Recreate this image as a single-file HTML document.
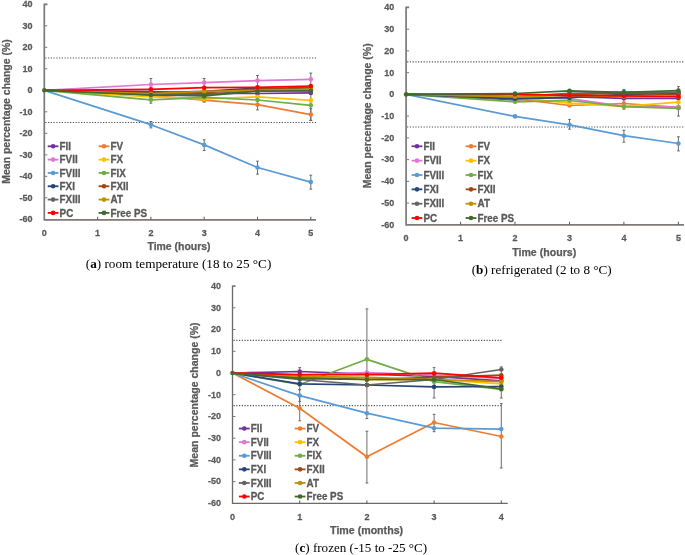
<!DOCTYPE html>
<html><head><meta charset="utf-8"><style>
html,body{margin:0;padding:0;background:#fff;width:685px;height:555px;overflow:hidden}
svg{display:block;filter:blur(0.35px)}
.tk{font-family:"Liberation Sans",sans-serif;font-weight:bold;font-size:9.4px;fill:#595959;stroke:#595959;stroke-width:0.25px}
.ti{font-family:"Liberation Sans",sans-serif;font-weight:bold;font-size:10.8px;fill:#595959;stroke:#595959;stroke-width:0.25px}
.lg{font-family:"Liberation Sans",sans-serif;font-weight:bold;font-size:10.6px;fill:#595959;stroke:#595959;stroke-width:0.3px}
.cap{font-family:"Liberation Serif",serif;font-size:13.5px;fill:#000}
</style></head><body>
<svg width="685" height="555" viewBox="0 0 685 555">
<rect width="685" height="555" fill="#fff"/>
<line x1="45.3" y1="58.0" x2="316.0" y2="58.0" stroke="#505050" stroke-width="1.15" stroke-dasharray="1.2 1.55"/>
<line x1="45.3" y1="122.5" x2="316.0" y2="122.5" stroke="#505050" stroke-width="1.15" stroke-dasharray="1.2 1.55"/>
<path d="M47.3 4.3H44.3V219.8H316.0" fill="none" stroke="#7f7977" stroke-width="1.7"/>
<line x1="44.3" y1="197.8" x2="47.3" y2="197.8" stroke="#7f7977" stroke-width="1"/>
<line x1="44.3" y1="176.3" x2="47.3" y2="176.3" stroke="#7f7977" stroke-width="1"/>
<line x1="44.3" y1="154.8" x2="47.3" y2="154.8" stroke="#7f7977" stroke-width="1"/>
<line x1="44.3" y1="133.3" x2="47.3" y2="133.3" stroke="#7f7977" stroke-width="1"/>
<line x1="44.3" y1="111.8" x2="47.3" y2="111.8" stroke="#7f7977" stroke-width="1"/>
<line x1="44.3" y1="90.3" x2="47.3" y2="90.3" stroke="#7f7977" stroke-width="1"/>
<line x1="44.3" y1="68.8" x2="47.3" y2="68.8" stroke="#7f7977" stroke-width="1"/>
<line x1="44.3" y1="47.3" x2="47.3" y2="47.3" stroke="#7f7977" stroke-width="1"/>
<line x1="44.3" y1="25.8" x2="47.3" y2="25.8" stroke="#7f7977" stroke-width="1"/>
<line x1="44.3" y1="4.3" x2="47.3" y2="4.3" stroke="#7f7977" stroke-width="1"/>
<line x1="97.6" y1="219.8" x2="97.6" y2="216.8" stroke="#5e5a5a" stroke-width="1.05"/>
<line x1="150.9" y1="219.8" x2="150.9" y2="216.8" stroke="#5e5a5a" stroke-width="1.05"/>
<line x1="204.2" y1="219.8" x2="204.2" y2="216.8" stroke="#5e5a5a" stroke-width="1.05"/>
<line x1="257.5" y1="219.8" x2="257.5" y2="216.8" stroke="#5e5a5a" stroke-width="1.05"/>
<line x1="310.8" y1="219.8" x2="310.8" y2="216.8" stroke="#5e5a5a" stroke-width="1.05"/>
<text transform="translate(32.5,222.1) scale(0.96,1)" text-anchor="end" class="tk">-60</text>
<text transform="translate(32.5,200.6) scale(0.96,1)" text-anchor="end" class="tk">-50</text>
<text transform="translate(32.5,179.1) scale(0.96,1)" text-anchor="end" class="tk">-40</text>
<text transform="translate(32.5,157.6) scale(0.96,1)" text-anchor="end" class="tk">-30</text>
<text transform="translate(32.5,136.1) scale(0.96,1)" text-anchor="end" class="tk">-20</text>
<text transform="translate(32.5,114.6) scale(0.96,1)" text-anchor="end" class="tk">-10</text>
<text transform="translate(32.5,93.1) scale(0.96,1)" text-anchor="end" class="tk">0</text>
<text transform="translate(32.5,71.6) scale(0.96,1)" text-anchor="end" class="tk">10</text>
<text transform="translate(32.5,50.1) scale(0.96,1)" text-anchor="end" class="tk">20</text>
<text transform="translate(32.5,28.6) scale(0.96,1)" text-anchor="end" class="tk">30</text>
<text transform="translate(32.5,7.1) scale(0.96,1)" text-anchor="end" class="tk">40</text>
<text transform="translate(44.3,236.0) scale(0.96,1)" text-anchor="middle" class="tk">0</text>
<text transform="translate(97.6,236.0) scale(0.96,1)" text-anchor="middle" class="tk">1</text>
<text transform="translate(150.9,236.0) scale(0.96,1)" text-anchor="middle" class="tk">2</text>
<text transform="translate(204.2,236.0) scale(0.96,1)" text-anchor="middle" class="tk">3</text>
<text transform="translate(257.5,236.0) scale(0.96,1)" text-anchor="middle" class="tk">4</text>
<text transform="translate(310.8,236.0) scale(0.96,1)" text-anchor="middle" class="tk">5</text>
<text transform="translate(10.3,111.5) rotate(-90)" text-anchor="middle" class="ti" textLength="144.5" lengthAdjust="spacingAndGlyphs">Mean percentage change (%)</text>
<text x="179.0" y="249.9" text-anchor="middle" class="ti" textLength="63" lengthAdjust="spacingAndGlyphs">Time (hours)</text>
<text x="85.8" y="268.2" class="cap" textLength="185.5" lengthAdjust="spacingAndGlyphs">(<tspan font-weight="bold">a</tspan>) room temperature (18 to 25 °C)</text>
<line x1="47.70" y1="146.30" x2="58.50" y2="146.30" stroke="#7030A0" stroke-width="1.8"/>
<circle cx="53.10" cy="146.30" r="2.3" fill="#7030A0"/>
<text transform="translate(59.6,149.90) scale(0.93,1)" class="lg">FII</text>
<line x1="98.60" y1="146.30" x2="109.40" y2="146.30" stroke="#ED7D31" stroke-width="1.8"/>
<circle cx="104.00" cy="146.30" r="2.3" fill="#ED7D31"/>
<text transform="translate(110.5,149.90) scale(0.93,1)" class="lg">FV</text>
<line x1="47.70" y1="159.62" x2="58.50" y2="159.62" stroke="#E377D0" stroke-width="1.8"/>
<circle cx="53.10" cy="159.62" r="2.3" fill="#E377D0"/>
<text transform="translate(59.6,163.22) scale(0.93,1)" class="lg">FVII</text>
<line x1="98.60" y1="159.62" x2="109.40" y2="159.62" stroke="#FFC000" stroke-width="1.8"/>
<circle cx="104.00" cy="159.62" r="2.3" fill="#FFC000"/>
<text transform="translate(110.5,163.22) scale(0.93,1)" class="lg">FX</text>
<line x1="47.70" y1="172.94" x2="58.50" y2="172.94" stroke="#5B9BD5" stroke-width="1.8"/>
<circle cx="53.10" cy="172.94" r="2.3" fill="#5B9BD5"/>
<text transform="translate(59.6,176.54) scale(0.93,1)" class="lg">FVIII</text>
<line x1="98.60" y1="172.94" x2="109.40" y2="172.94" stroke="#70AD47" stroke-width="1.8"/>
<circle cx="104.00" cy="172.94" r="2.3" fill="#70AD47"/>
<text transform="translate(110.5,176.54) scale(0.93,1)" class="lg">FIX</text>
<line x1="47.70" y1="186.26" x2="58.50" y2="186.26" stroke="#264478" stroke-width="1.8"/>
<circle cx="53.10" cy="186.26" r="2.3" fill="#264478"/>
<text transform="translate(59.6,189.86) scale(0.93,1)" class="lg">FXI</text>
<line x1="98.60" y1="186.26" x2="109.40" y2="186.26" stroke="#9E480E" stroke-width="1.8"/>
<circle cx="104.00" cy="186.26" r="2.3" fill="#9E480E"/>
<text transform="translate(110.5,189.86) scale(0.93,1)" class="lg">FXII</text>
<line x1="47.70" y1="199.58" x2="58.50" y2="199.58" stroke="#636363" stroke-width="1.8"/>
<circle cx="53.10" cy="199.58" r="2.3" fill="#636363"/>
<text transform="translate(59.6,203.18) scale(0.93,1)" class="lg">FXIII</text>
<line x1="98.60" y1="199.58" x2="109.40" y2="199.58" stroke="#BF9000" stroke-width="1.8"/>
<circle cx="104.00" cy="199.58" r="2.3" fill="#BF9000"/>
<text transform="translate(110.5,203.18) scale(0.93,1)" class="lg">AT</text>
<line x1="47.70" y1="212.90" x2="58.50" y2="212.90" stroke="#FF0000" stroke-width="1.8"/>
<circle cx="53.10" cy="212.90" r="2.3" fill="#FF0000"/>
<text transform="translate(59.6,216.50) scale(0.93,1)" class="lg">PC</text>
<line x1="98.60" y1="212.90" x2="109.40" y2="212.90" stroke="#43682B" stroke-width="1.8"/>
<circle cx="104.00" cy="212.90" r="2.3" fill="#43682B"/>
<text transform="translate(110.5,216.50) scale(0.93,1)" class="lg">Free PS</text>
<path d="M150.9 78.5V103.2M149.5 78.5H152.3M149.5 103.2H152.3" stroke="#5c5c5c" stroke-width="0.9" fill="none"/>
<path d="M204.2 78.5V102.1M202.8 78.5H205.6M202.8 102.1H205.6" stroke="#5c5c5c" stroke-width="0.9" fill="none"/>
<path d="M257.5 75.5V109.9M256.1 75.5H258.9M256.1 109.9H258.9" stroke="#5c5c5c" stroke-width="0.9" fill="none"/>
<path d="M310.8 73.1V120.4M309.4 73.1H312.2M309.4 120.4H312.2" stroke="#5c5c5c" stroke-width="0.9" fill="none"/>
<path d="M150.9 121.5V127.9M149.5 121.5H152.3M149.5 127.9H152.3" stroke="#5c5c5c" stroke-width="0.9" fill="none"/>
<path d="M204.2 139.8V150.5M202.8 139.8H205.6M202.8 150.5H205.6" stroke="#5c5c5c" stroke-width="0.9" fill="none"/>
<path d="M257.5 161.2V174.1M256.1 161.2H258.9M256.1 174.1H258.9" stroke="#5c5c5c" stroke-width="0.9" fill="none"/>
<path d="M310.8 175.2V189.2M309.4 175.2H312.2M309.4 189.2H312.2" stroke="#5c5c5c" stroke-width="0.9" fill="none"/>
<path d="M310.8 108.6V120.4M309.4 108.6H312.2M309.4 120.4H312.2" stroke="#5c5c5c" stroke-width="0.9" fill="none"/>
<polyline points="44.3,90.3 150.9,91.6 204.2,93.3 257.5,93.5 310.8,92.9" fill="none" stroke="#7030A0" stroke-width="1.75" stroke-linejoin="round"/>
<circle cx="150.9" cy="91.6" r="2.3" fill="#7030A0"/>
<circle cx="204.2" cy="93.3" r="2.3" fill="#7030A0"/>
<circle cx="257.5" cy="93.5" r="2.3" fill="#7030A0"/>
<circle cx="310.8" cy="92.9" r="2.3" fill="#7030A0"/>
<polyline points="44.3,90.3 150.9,95.7 204.2,100.2 257.5,104.7 310.8,114.6" fill="none" stroke="#ED7D31" stroke-width="1.75" stroke-linejoin="round"/>
<circle cx="150.9" cy="95.7" r="2.3" fill="#ED7D31"/>
<circle cx="204.2" cy="100.2" r="2.3" fill="#ED7D31"/>
<circle cx="257.5" cy="104.7" r="2.3" fill="#ED7D31"/>
<circle cx="310.8" cy="114.6" r="2.3" fill="#ED7D31"/>
<polyline points="44.3,90.3 150.9,84.5 204.2,82.6 257.5,80.6 310.8,79.3" fill="none" stroke="#E377D0" stroke-width="1.75" stroke-linejoin="round"/>
<circle cx="150.9" cy="84.5" r="2.3" fill="#E377D0"/>
<circle cx="204.2" cy="82.6" r="2.3" fill="#E377D0"/>
<circle cx="257.5" cy="80.6" r="2.3" fill="#E377D0"/>
<circle cx="310.8" cy="79.3" r="2.3" fill="#E377D0"/>
<polyline points="44.3,90.3 150.9,124.7 204.2,144.9 257.5,167.5 310.8,182.1" fill="none" stroke="#5B9BD5" stroke-width="1.75" stroke-linejoin="round"/>
<circle cx="150.9" cy="124.7" r="2.3" fill="#5B9BD5"/>
<circle cx="204.2" cy="144.9" r="2.3" fill="#5B9BD5"/>
<circle cx="257.5" cy="167.5" r="2.3" fill="#5B9BD5"/>
<circle cx="310.8" cy="182.1" r="2.3" fill="#5B9BD5"/>
<polyline points="44.3,90.3 150.9,96.8 204.2,98.9 257.5,96.8 310.8,100.4" fill="none" stroke="#FFC000" stroke-width="1.75" stroke-linejoin="round"/>
<circle cx="150.9" cy="96.8" r="2.3" fill="#FFC000"/>
<circle cx="204.2" cy="98.9" r="2.3" fill="#FFC000"/>
<circle cx="257.5" cy="96.8" r="2.3" fill="#FFC000"/>
<circle cx="310.8" cy="100.4" r="2.3" fill="#FFC000"/>
<polyline points="44.3,90.3 150.9,99.8 204.2,97.4 257.5,100.0 310.8,105.3" fill="none" stroke="#70AD47" stroke-width="1.75" stroke-linejoin="round"/>
<circle cx="150.9" cy="99.8" r="2.3" fill="#70AD47"/>
<circle cx="204.2" cy="97.4" r="2.3" fill="#70AD47"/>
<circle cx="257.5" cy="100.0" r="2.3" fill="#70AD47"/>
<circle cx="310.8" cy="105.3" r="2.3" fill="#70AD47"/>
<polyline points="44.3,90.3 150.9,92.9 204.2,91.4 257.5,88.1 310.8,89.2" fill="none" stroke="#264478" stroke-width="1.75" stroke-linejoin="round"/>
<circle cx="150.9" cy="92.9" r="2.3" fill="#264478"/>
<circle cx="204.2" cy="91.4" r="2.3" fill="#264478"/>
<circle cx="257.5" cy="88.1" r="2.3" fill="#264478"/>
<circle cx="310.8" cy="89.2" r="2.3" fill="#264478"/>
<polyline points="44.3,90.3 150.9,93.5 204.2,92.7 257.5,89.2 310.8,87.1" fill="none" stroke="#9E480E" stroke-width="1.75" stroke-linejoin="round"/>
<circle cx="150.9" cy="93.5" r="2.3" fill="#9E480E"/>
<circle cx="204.2" cy="92.7" r="2.3" fill="#9E480E"/>
<circle cx="257.5" cy="89.2" r="2.3" fill="#9E480E"/>
<circle cx="310.8" cy="87.1" r="2.3" fill="#9E480E"/>
<polyline points="44.3,90.3 150.9,94.6 204.2,94.6 257.5,90.3 310.8,90.3" fill="none" stroke="#636363" stroke-width="1.75" stroke-linejoin="round"/>
<circle cx="150.9" cy="94.6" r="2.3" fill="#636363"/>
<circle cx="204.2" cy="94.6" r="2.3" fill="#636363"/>
<circle cx="257.5" cy="90.3" r="2.3" fill="#636363"/>
<circle cx="310.8" cy="90.3" r="2.3" fill="#636363"/>
<polyline points="44.3,90.3 150.9,93.5 204.2,91.4 257.5,90.3 310.8,89.2" fill="none" stroke="#BF9000" stroke-width="1.75" stroke-linejoin="round"/>
<circle cx="150.9" cy="93.5" r="2.3" fill="#BF9000"/>
<circle cx="204.2" cy="91.4" r="2.3" fill="#BF9000"/>
<circle cx="257.5" cy="90.3" r="2.3" fill="#BF9000"/>
<circle cx="310.8" cy="89.2" r="2.3" fill="#BF9000"/>
<polyline points="44.3,90.3 150.9,89.3 204.2,87.7 257.5,87.3 310.8,86.0" fill="none" stroke="#FF0000" stroke-width="1.75" stroke-linejoin="round"/>
<circle cx="150.9" cy="89.3" r="2.3" fill="#FF0000"/>
<circle cx="204.2" cy="87.7" r="2.3" fill="#FF0000"/>
<circle cx="257.5" cy="87.3" r="2.3" fill="#FF0000"/>
<circle cx="310.8" cy="86.0" r="2.3" fill="#FF0000"/>
<polyline points="44.3,90.3 150.9,95.0 204.2,95.9 257.5,91.2 310.8,90.9" fill="none" stroke="#43682B" stroke-width="1.75" stroke-linejoin="round"/>
<circle cx="44.3" cy="90.3" r="2.3" fill="#43682B"/>
<circle cx="150.9" cy="95.0" r="2.3" fill="#43682B"/>
<circle cx="204.2" cy="95.9" r="2.3" fill="#43682B"/>
<circle cx="257.5" cy="91.2" r="2.3" fill="#43682B"/>
<circle cx="310.8" cy="90.9" r="2.3" fill="#43682B"/>
<line x1="407.1" y1="61.8" x2="684.0" y2="61.8" stroke="#505050" stroke-width="1.15" stroke-dasharray="1.2 1.55"/>
<line x1="407.1" y1="127.0" x2="684.0" y2="127.0" stroke="#505050" stroke-width="1.15" stroke-dasharray="1.2 1.55"/>
<path d="M409.1 7.4H406.1V224.8H684.0" fill="none" stroke="#7f7977" stroke-width="1.7"/>
<line x1="406.1" y1="203.1" x2="409.1" y2="203.1" stroke="#7f7977" stroke-width="1"/>
<line x1="406.1" y1="181.4" x2="409.1" y2="181.4" stroke="#7f7977" stroke-width="1"/>
<line x1="406.1" y1="159.6" x2="409.1" y2="159.6" stroke="#7f7977" stroke-width="1"/>
<line x1="406.1" y1="137.9" x2="409.1" y2="137.9" stroke="#7f7977" stroke-width="1"/>
<line x1="406.1" y1="116.1" x2="409.1" y2="116.1" stroke="#7f7977" stroke-width="1"/>
<line x1="406.1" y1="94.4" x2="409.1" y2="94.4" stroke="#7f7977" stroke-width="1"/>
<line x1="406.1" y1="72.7" x2="409.1" y2="72.7" stroke="#7f7977" stroke-width="1"/>
<line x1="406.1" y1="50.9" x2="409.1" y2="50.9" stroke="#7f7977" stroke-width="1"/>
<line x1="406.1" y1="29.2" x2="409.1" y2="29.2" stroke="#7f7977" stroke-width="1"/>
<line x1="406.1" y1="7.4" x2="409.1" y2="7.4" stroke="#7f7977" stroke-width="1"/>
<line x1="460.6" y1="224.8" x2="460.6" y2="221.8" stroke="#5e5a5a" stroke-width="1.05"/>
<line x1="515.0" y1="224.8" x2="515.0" y2="221.8" stroke="#5e5a5a" stroke-width="1.05"/>
<line x1="569.5" y1="224.8" x2="569.5" y2="221.8" stroke="#5e5a5a" stroke-width="1.05"/>
<line x1="623.9" y1="224.8" x2="623.9" y2="221.8" stroke="#5e5a5a" stroke-width="1.05"/>
<line x1="678.4" y1="224.8" x2="678.4" y2="221.8" stroke="#5e5a5a" stroke-width="1.05"/>
<text transform="translate(394.3,227.6) scale(0.96,1)" text-anchor="end" class="tk">-60</text>
<text transform="translate(394.3,205.9) scale(0.96,1)" text-anchor="end" class="tk">-50</text>
<text transform="translate(394.3,184.2) scale(0.96,1)" text-anchor="end" class="tk">-40</text>
<text transform="translate(394.3,162.4) scale(0.96,1)" text-anchor="end" class="tk">-30</text>
<text transform="translate(394.3,140.7) scale(0.96,1)" text-anchor="end" class="tk">-20</text>
<text transform="translate(394.3,118.9) scale(0.96,1)" text-anchor="end" class="tk">-10</text>
<text transform="translate(394.3,97.2) scale(0.96,1)" text-anchor="end" class="tk">0</text>
<text transform="translate(394.3,75.5) scale(0.96,1)" text-anchor="end" class="tk">10</text>
<text transform="translate(394.3,53.7) scale(0.96,1)" text-anchor="end" class="tk">20</text>
<text transform="translate(394.3,32.0) scale(0.96,1)" text-anchor="end" class="tk">30</text>
<text transform="translate(394.3,10.2) scale(0.96,1)" text-anchor="end" class="tk">40</text>
<text transform="translate(406.1,241.2) scale(0.96,1)" text-anchor="middle" class="tk">0</text>
<text transform="translate(460.6,241.2) scale(0.96,1)" text-anchor="middle" class="tk">1</text>
<text transform="translate(515.0,241.2) scale(0.96,1)" text-anchor="middle" class="tk">2</text>
<text transform="translate(569.5,241.2) scale(0.96,1)" text-anchor="middle" class="tk">3</text>
<text transform="translate(623.9,241.2) scale(0.96,1)" text-anchor="middle" class="tk">4</text>
<text transform="translate(678.4,241.2) scale(0.96,1)" text-anchor="middle" class="tk">5</text>
<text transform="translate(371.2,115.8) rotate(-90)" text-anchor="middle" class="ti" textLength="145" lengthAdjust="spacingAndGlyphs">Mean percentage change (%)</text>
<text x="544.2" y="255.9" text-anchor="middle" class="ti" textLength="64" lengthAdjust="spacingAndGlyphs">Time (hours)</text>
<text x="471.7" y="274.2" class="cap" textLength="140" lengthAdjust="spacingAndGlyphs">(<tspan font-weight="bold">b</tspan>) refrigerated (2 to 8 °C)</text>
<line x1="411.60" y1="146.30" x2="422.40" y2="146.30" stroke="#7030A0" stroke-width="1.8"/>
<circle cx="417.00" cy="146.30" r="2.3" fill="#7030A0"/>
<text transform="translate(423.5,149.90) scale(0.93,1)" class="lg">FII</text>
<line x1="465.60" y1="146.30" x2="476.40" y2="146.30" stroke="#ED7D31" stroke-width="1.8"/>
<circle cx="471.00" cy="146.30" r="2.3" fill="#ED7D31"/>
<text transform="translate(477.5,149.90) scale(0.93,1)" class="lg">FV</text>
<line x1="411.60" y1="160.65" x2="422.40" y2="160.65" stroke="#E377D0" stroke-width="1.8"/>
<circle cx="417.00" cy="160.65" r="2.3" fill="#E377D0"/>
<text transform="translate(423.5,164.25) scale(0.93,1)" class="lg">FVII</text>
<line x1="465.60" y1="160.65" x2="476.40" y2="160.65" stroke="#FFC000" stroke-width="1.8"/>
<circle cx="471.00" cy="160.65" r="2.3" fill="#FFC000"/>
<text transform="translate(477.5,164.25) scale(0.93,1)" class="lg">FX</text>
<line x1="411.60" y1="175.00" x2="422.40" y2="175.00" stroke="#5B9BD5" stroke-width="1.8"/>
<circle cx="417.00" cy="175.00" r="2.3" fill="#5B9BD5"/>
<text transform="translate(423.5,178.60) scale(0.93,1)" class="lg">FVIII</text>
<line x1="465.60" y1="175.00" x2="476.40" y2="175.00" stroke="#70AD47" stroke-width="1.8"/>
<circle cx="471.00" cy="175.00" r="2.3" fill="#70AD47"/>
<text transform="translate(477.5,178.60) scale(0.93,1)" class="lg">FIX</text>
<line x1="411.60" y1="189.35" x2="422.40" y2="189.35" stroke="#264478" stroke-width="1.8"/>
<circle cx="417.00" cy="189.35" r="2.3" fill="#264478"/>
<text transform="translate(423.5,192.95) scale(0.93,1)" class="lg">FXI</text>
<line x1="465.60" y1="189.35" x2="476.40" y2="189.35" stroke="#9E480E" stroke-width="1.8"/>
<circle cx="471.00" cy="189.35" r="2.3" fill="#9E480E"/>
<text transform="translate(477.5,192.95) scale(0.93,1)" class="lg">FXII</text>
<line x1="411.60" y1="203.70" x2="422.40" y2="203.70" stroke="#636363" stroke-width="1.8"/>
<circle cx="417.00" cy="203.70" r="2.3" fill="#636363"/>
<text transform="translate(423.5,207.30) scale(0.93,1)" class="lg">FXIII</text>
<line x1="465.60" y1="203.70" x2="476.40" y2="203.70" stroke="#BF9000" stroke-width="1.8"/>
<circle cx="471.00" cy="203.70" r="2.3" fill="#BF9000"/>
<text transform="translate(477.5,207.30) scale(0.93,1)" class="lg">AT</text>
<line x1="411.60" y1="218.05" x2="422.40" y2="218.05" stroke="#FF0000" stroke-width="1.8"/>
<circle cx="417.00" cy="218.05" r="2.3" fill="#FF0000"/>
<text transform="translate(423.5,221.65) scale(0.93,1)" class="lg">PC</text>
<line x1="465.60" y1="218.05" x2="476.40" y2="218.05" stroke="#43682B" stroke-width="1.8"/>
<circle cx="471.00" cy="218.05" r="2.3" fill="#43682B"/>
<text transform="translate(477.5,221.65) scale(0.93,1)" class="lg">Free PS</text>
<path d="M623.9 89.4V109.2M622.5 89.4H625.3M622.5 109.2H625.3" stroke="#5c5c5c" stroke-width="0.9" fill="none"/>
<path d="M678.4 86.6V116.1M677.0 86.6H679.8M677.0 116.1H679.8" stroke="#5c5c5c" stroke-width="0.9" fill="none"/>
<path d="M569.5 119.4V129.2M568.1 119.4H570.9M568.1 129.2H570.9" stroke="#5c5c5c" stroke-width="0.9" fill="none"/>
<path d="M623.9 130.3V142.2M622.5 130.3H625.3M622.5 142.2H625.3" stroke="#5c5c5c" stroke-width="0.9" fill="none"/>
<path d="M678.4 136.8V150.9M677.0 136.8H679.8M677.0 150.9H679.8" stroke="#5c5c5c" stroke-width="0.9" fill="none"/>
<polyline points="406.1,94.4 515.0,99.8 569.5,96.6 623.9,98.3 678.4,98.3" fill="none" stroke="#7030A0" stroke-width="1.75" stroke-linejoin="round"/>
<circle cx="515.0" cy="99.8" r="2.3" fill="#7030A0"/>
<circle cx="569.5" cy="96.6" r="2.3" fill="#7030A0"/>
<circle cx="623.9" cy="98.3" r="2.3" fill="#7030A0"/>
<circle cx="678.4" cy="98.3" r="2.3" fill="#7030A0"/>
<polyline points="406.1,94.4 515.0,98.7 569.5,105.5 623.9,103.5 678.4,107.4" fill="none" stroke="#ED7D31" stroke-width="1.75" stroke-linejoin="round"/>
<circle cx="515.0" cy="98.7" r="2.3" fill="#ED7D31"/>
<circle cx="569.5" cy="105.5" r="2.3" fill="#ED7D31"/>
<circle cx="623.9" cy="103.5" r="2.3" fill="#ED7D31"/>
<circle cx="678.4" cy="107.4" r="2.3" fill="#ED7D31"/>
<polyline points="406.1,94.4 515.0,97.7 569.5,98.7 623.9,106.4 678.4,107.0" fill="none" stroke="#E377D0" stroke-width="1.75" stroke-linejoin="round"/>
<circle cx="515.0" cy="97.7" r="2.3" fill="#E377D0"/>
<circle cx="569.5" cy="98.7" r="2.3" fill="#E377D0"/>
<circle cx="623.9" cy="106.4" r="2.3" fill="#E377D0"/>
<circle cx="678.4" cy="107.0" r="2.3" fill="#E377D0"/>
<polyline points="406.1,94.4 515.0,116.4 569.5,124.8 623.9,135.7 678.4,143.5" fill="none" stroke="#5B9BD5" stroke-width="1.75" stroke-linejoin="round"/>
<circle cx="515.0" cy="116.4" r="2.3" fill="#5B9BD5"/>
<circle cx="569.5" cy="124.8" r="2.3" fill="#5B9BD5"/>
<circle cx="623.9" cy="135.7" r="2.3" fill="#5B9BD5"/>
<circle cx="678.4" cy="143.5" r="2.3" fill="#5B9BD5"/>
<polyline points="406.1,94.4 515.0,97.7 569.5,103.1 623.9,106.4 678.4,102.2" fill="none" stroke="#FFC000" stroke-width="1.75" stroke-linejoin="round"/>
<circle cx="515.0" cy="97.7" r="2.3" fill="#FFC000"/>
<circle cx="569.5" cy="103.1" r="2.3" fill="#FFC000"/>
<circle cx="623.9" cy="106.4" r="2.3" fill="#FFC000"/>
<circle cx="678.4" cy="102.2" r="2.3" fill="#FFC000"/>
<polyline points="406.1,94.4 515.0,101.8 569.5,100.5 623.9,106.6 678.4,108.3" fill="none" stroke="#70AD47" stroke-width="1.75" stroke-linejoin="round"/>
<circle cx="515.0" cy="101.8" r="2.3" fill="#70AD47"/>
<circle cx="569.5" cy="100.5" r="2.3" fill="#70AD47"/>
<circle cx="623.9" cy="106.6" r="2.3" fill="#70AD47"/>
<circle cx="678.4" cy="108.3" r="2.3" fill="#70AD47"/>
<polyline points="406.1,94.4 515.0,98.7 569.5,97.7 623.9,94.4 678.4,93.3" fill="none" stroke="#264478" stroke-width="1.75" stroke-linejoin="round"/>
<circle cx="515.0" cy="98.7" r="2.3" fill="#264478"/>
<circle cx="569.5" cy="97.7" r="2.3" fill="#264478"/>
<circle cx="623.9" cy="94.4" r="2.3" fill="#264478"/>
<circle cx="678.4" cy="93.3" r="2.3" fill="#264478"/>
<polyline points="406.1,94.4 515.0,96.6 569.5,94.4 623.9,93.3 678.4,94.4" fill="none" stroke="#9E480E" stroke-width="1.75" stroke-linejoin="round"/>
<circle cx="515.0" cy="96.6" r="2.3" fill="#9E480E"/>
<circle cx="569.5" cy="94.4" r="2.3" fill="#9E480E"/>
<circle cx="623.9" cy="93.3" r="2.3" fill="#9E480E"/>
<circle cx="678.4" cy="94.4" r="2.3" fill="#9E480E"/>
<polyline points="406.1,94.4 515.0,96.6 569.5,93.3 623.9,92.2 678.4,92.2" fill="none" stroke="#636363" stroke-width="1.75" stroke-linejoin="round"/>
<circle cx="515.0" cy="96.6" r="2.3" fill="#636363"/>
<circle cx="569.5" cy="93.3" r="2.3" fill="#636363"/>
<circle cx="623.9" cy="92.2" r="2.3" fill="#636363"/>
<circle cx="678.4" cy="92.2" r="2.3" fill="#636363"/>
<polyline points="406.1,94.4 515.0,96.6 569.5,95.5 623.9,96.6 678.4,96.6" fill="none" stroke="#BF9000" stroke-width="1.75" stroke-linejoin="round"/>
<circle cx="515.0" cy="96.6" r="2.3" fill="#BF9000"/>
<circle cx="569.5" cy="95.5" r="2.3" fill="#BF9000"/>
<circle cx="623.9" cy="96.6" r="2.3" fill="#BF9000"/>
<circle cx="678.4" cy="96.6" r="2.3" fill="#BF9000"/>
<polyline points="406.1,94.4 515.0,94.2 569.5,95.3 623.9,95.9 678.4,96.4" fill="none" stroke="#FF0000" stroke-width="1.75" stroke-linejoin="round"/>
<circle cx="515.0" cy="94.2" r="2.3" fill="#FF0000"/>
<circle cx="569.5" cy="95.3" r="2.3" fill="#FF0000"/>
<circle cx="623.9" cy="95.9" r="2.3" fill="#FF0000"/>
<circle cx="678.4" cy="96.4" r="2.3" fill="#FF0000"/>
<polyline points="406.1,94.4 515.0,93.5 569.5,90.9 623.9,92.4 678.4,90.5" fill="none" stroke="#43682B" stroke-width="1.75" stroke-linejoin="round"/>
<circle cx="406.1" cy="94.4" r="2.3" fill="#43682B"/>
<circle cx="515.0" cy="93.5" r="2.3" fill="#43682B"/>
<circle cx="569.5" cy="90.9" r="2.3" fill="#43682B"/>
<circle cx="623.9" cy="92.4" r="2.3" fill="#43682B"/>
<circle cx="678.4" cy="90.5" r="2.3" fill="#43682B"/>
<line x1="233.5" y1="340.4" x2="501.5" y2="340.4" stroke="#505050" stroke-width="1.15" stroke-dasharray="1.2 1.55"/>
<line x1="233.5" y1="405.6" x2="501.5" y2="405.6" stroke="#505050" stroke-width="1.15" stroke-dasharray="1.2 1.55"/>
<path d="M235.5 286.1H232.5V503.4H507.7" fill="none" stroke="#6e6967" stroke-width="1.3"/>
<line x1="232.5" y1="481.6" x2="235.5" y2="481.6" stroke="#7f7977" stroke-width="1"/>
<line x1="232.5" y1="459.9" x2="235.5" y2="459.9" stroke="#7f7977" stroke-width="1"/>
<line x1="232.5" y1="438.2" x2="235.5" y2="438.2" stroke="#7f7977" stroke-width="1"/>
<line x1="232.5" y1="416.5" x2="235.5" y2="416.5" stroke="#7f7977" stroke-width="1"/>
<line x1="232.5" y1="394.7" x2="235.5" y2="394.7" stroke="#7f7977" stroke-width="1"/>
<line x1="232.5" y1="373.0" x2="235.5" y2="373.0" stroke="#7f7977" stroke-width="1"/>
<line x1="232.5" y1="351.3" x2="235.5" y2="351.3" stroke="#7f7977" stroke-width="1"/>
<line x1="232.5" y1="329.5" x2="235.5" y2="329.5" stroke="#7f7977" stroke-width="1"/>
<line x1="232.5" y1="307.8" x2="235.5" y2="307.8" stroke="#7f7977" stroke-width="1"/>
<line x1="232.5" y1="286.1" x2="235.5" y2="286.1" stroke="#7f7977" stroke-width="1"/>
<line x1="299.7" y1="503.4" x2="299.7" y2="500.4" stroke="#5e5a5a" stroke-width="1.05"/>
<line x1="366.9" y1="503.4" x2="366.9" y2="500.4" stroke="#5e5a5a" stroke-width="1.05"/>
<line x1="434.1" y1="503.4" x2="434.1" y2="500.4" stroke="#5e5a5a" stroke-width="1.05"/>
<line x1="501.3" y1="503.4" x2="501.3" y2="500.4" stroke="#5e5a5a" stroke-width="1.05"/>
<text transform="translate(221.0,506.2) scale(0.96,1)" text-anchor="end" class="tk">-60</text>
<text transform="translate(221.0,484.4) scale(0.96,1)" text-anchor="end" class="tk">-50</text>
<text transform="translate(221.0,462.7) scale(0.96,1)" text-anchor="end" class="tk">-40</text>
<text transform="translate(221.0,441.0) scale(0.96,1)" text-anchor="end" class="tk">-30</text>
<text transform="translate(221.0,419.3) scale(0.96,1)" text-anchor="end" class="tk">-20</text>
<text transform="translate(221.0,397.5) scale(0.96,1)" text-anchor="end" class="tk">-10</text>
<text transform="translate(221.0,375.8) scale(0.96,1)" text-anchor="end" class="tk">0</text>
<text transform="translate(221.0,354.1) scale(0.96,1)" text-anchor="end" class="tk">10</text>
<text transform="translate(221.0,332.3) scale(0.96,1)" text-anchor="end" class="tk">20</text>
<text transform="translate(221.0,310.6) scale(0.96,1)" text-anchor="end" class="tk">30</text>
<text transform="translate(221.0,288.9) scale(0.96,1)" text-anchor="end" class="tk">40</text>
<text transform="translate(232.5,519.8) scale(0.96,1)" text-anchor="middle" class="tk">0</text>
<text transform="translate(299.7,519.8) scale(0.96,1)" text-anchor="middle" class="tk">1</text>
<text transform="translate(366.9,519.8) scale(0.96,1)" text-anchor="middle" class="tk">2</text>
<text transform="translate(434.1,519.8) scale(0.96,1)" text-anchor="middle" class="tk">3</text>
<text transform="translate(501.3,519.8) scale(0.96,1)" text-anchor="middle" class="tk">4</text>
<text transform="translate(198.1,394.9) rotate(-90)" text-anchor="middle" class="ti" textLength="145" lengthAdjust="spacingAndGlyphs">Mean percentage change (%)</text>
<text x="366.6" y="534.3" text-anchor="middle" class="ti" textLength="73" lengthAdjust="spacingAndGlyphs">Time (months)</text>
<text x="295.1" y="551.7" class="cap" textLength="132" lengthAdjust="spacingAndGlyphs">(<tspan font-weight="bold">c</tspan>) frozen (-15 to -25 °C)</text>
<line x1="238.90" y1="428.54" x2="249.70" y2="428.54" stroke="#7030A0" stroke-width="1.8"/>
<circle cx="244.30" cy="428.54" r="2.3" fill="#7030A0"/>
<text transform="translate(250.8,432.14) scale(0.93,1)" class="lg">FII</text>
<line x1="294.67" y1="428.54" x2="305.47" y2="428.54" stroke="#ED7D31" stroke-width="1.8"/>
<circle cx="300.07" cy="428.54" r="2.3" fill="#ED7D31"/>
<text transform="translate(306.6,432.14) scale(0.93,1)" class="lg">FV</text>
<line x1="238.90" y1="442.14" x2="249.70" y2="442.14" stroke="#E377D0" stroke-width="1.8"/>
<circle cx="244.30" cy="442.14" r="2.3" fill="#E377D0"/>
<text transform="translate(250.8,445.74) scale(0.93,1)" class="lg">FVII</text>
<line x1="294.67" y1="442.14" x2="305.47" y2="442.14" stroke="#FFC000" stroke-width="1.8"/>
<circle cx="300.07" cy="442.14" r="2.3" fill="#FFC000"/>
<text transform="translate(306.6,445.74) scale(0.93,1)" class="lg">FX</text>
<line x1="238.90" y1="455.74" x2="249.70" y2="455.74" stroke="#5B9BD5" stroke-width="1.8"/>
<circle cx="244.30" cy="455.74" r="2.3" fill="#5B9BD5"/>
<text transform="translate(250.8,459.34) scale(0.93,1)" class="lg">FVIII</text>
<line x1="294.67" y1="455.74" x2="305.47" y2="455.74" stroke="#70AD47" stroke-width="1.8"/>
<circle cx="300.07" cy="455.74" r="2.3" fill="#70AD47"/>
<text transform="translate(306.6,459.34) scale(0.93,1)" class="lg">FIX</text>
<line x1="238.90" y1="469.34" x2="249.70" y2="469.34" stroke="#264478" stroke-width="1.8"/>
<circle cx="244.30" cy="469.34" r="2.3" fill="#264478"/>
<text transform="translate(250.8,472.94) scale(0.93,1)" class="lg">FXI</text>
<line x1="294.67" y1="469.34" x2="305.47" y2="469.34" stroke="#9E480E" stroke-width="1.8"/>
<circle cx="300.07" cy="469.34" r="2.3" fill="#9E480E"/>
<text transform="translate(306.6,472.94) scale(0.93,1)" class="lg">FXII</text>
<line x1="238.90" y1="482.94" x2="249.70" y2="482.94" stroke="#636363" stroke-width="1.8"/>
<circle cx="244.30" cy="482.94" r="2.3" fill="#636363"/>
<text transform="translate(250.8,486.54) scale(0.93,1)" class="lg">FXIII</text>
<line x1="294.67" y1="482.94" x2="305.47" y2="482.94" stroke="#BF9000" stroke-width="1.8"/>
<circle cx="300.07" cy="482.94" r="2.3" fill="#BF9000"/>
<text transform="translate(306.6,486.54) scale(0.93,1)" class="lg">AT</text>
<line x1="238.90" y1="496.54" x2="249.70" y2="496.54" stroke="#FF0000" stroke-width="1.8"/>
<circle cx="244.30" cy="496.54" r="2.3" fill="#FF0000"/>
<text transform="translate(250.8,500.14) scale(0.93,1)" class="lg">PC</text>
<line x1="294.67" y1="496.54" x2="305.47" y2="496.54" stroke="#43682B" stroke-width="1.8"/>
<circle cx="300.07" cy="496.54" r="2.3" fill="#43682B"/>
<text transform="translate(306.6,500.14) scale(0.93,1)" class="lg">Free PS</text>
<path d="M299.7 367.6V389.7M298.3 367.6H301.1M298.3 389.7H301.1" stroke="#5c5c5c" stroke-width="0.9" fill="none"/>
<path d="M299.7 389.7V401.5M298.3 389.7H301.1M298.3 401.5H301.1" stroke="#5c5c5c" stroke-width="0.9" fill="none"/>
<path d="M366.9 308.9V418.6M365.5 308.9H368.3M365.5 418.6H368.3" stroke="#5c5c5c" stroke-width="0.9" fill="none"/>
<path d="M434.1 367.6V398.0M432.7 367.6H435.5M432.7 398.0H435.5" stroke="#5c5c5c" stroke-width="0.9" fill="none"/>
<path d="M501.3 366.9V398.0M499.9 366.9H502.7M499.9 398.0H502.7" stroke="#5c5c5c" stroke-width="0.9" fill="none"/>
<path d="M299.7 395.8V420.8M298.3 395.8H301.1M298.3 420.8H301.1" stroke="#5c5c5c" stroke-width="0.9" fill="none"/>
<path d="M366.9 431.2V483.0M365.5 431.2H368.3M365.5 483.0H368.3" stroke="#5c5c5c" stroke-width="0.9" fill="none"/>
<path d="M434.1 414.3V431.7M432.7 414.3H435.5M432.7 431.7H435.5" stroke="#5c5c5c" stroke-width="0.9" fill="none"/>
<path d="M501.3 403.6V468.0M499.9 403.6H502.7M499.9 468.0H502.7" stroke="#5c5c5c" stroke-width="0.9" fill="none"/>
<polyline points="232.5,373.0 299.7,371.5 366.9,374.1 434.1,376.3 501.3,380.8" fill="none" stroke="#7030A0" stroke-width="1.75" stroke-linejoin="round"/>
<circle cx="299.7" cy="371.5" r="2.3" fill="#7030A0"/>
<circle cx="366.9" cy="374.1" r="2.3" fill="#7030A0"/>
<circle cx="434.1" cy="376.3" r="2.3" fill="#7030A0"/>
<circle cx="501.3" cy="380.8" r="2.3" fill="#7030A0"/>
<polyline points="232.5,373.0 299.7,408.2 366.9,456.7 434.1,422.5 501.3,436.5" fill="none" stroke="#ED7D31" stroke-width="1.75" stroke-linejoin="round"/>
<circle cx="299.7" cy="408.2" r="2.3" fill="#ED7D31"/>
<circle cx="366.9" cy="456.7" r="2.3" fill="#ED7D31"/>
<circle cx="434.1" cy="422.5" r="2.3" fill="#ED7D31"/>
<circle cx="501.3" cy="436.5" r="2.3" fill="#ED7D31"/>
<polyline points="232.5,373.0 299.7,375.2 366.9,372.6 434.1,375.2 501.3,378.4" fill="none" stroke="#E377D0" stroke-width="1.75" stroke-linejoin="round"/>
<circle cx="299.7" cy="375.2" r="2.3" fill="#E377D0"/>
<circle cx="366.9" cy="372.6" r="2.3" fill="#E377D0"/>
<circle cx="434.1" cy="375.2" r="2.3" fill="#E377D0"/>
<circle cx="501.3" cy="378.4" r="2.3" fill="#E377D0"/>
<polyline points="232.5,373.0 299.7,395.6 366.9,413.2 434.1,428.2 501.3,429.1" fill="none" stroke="#5B9BD5" stroke-width="1.75" stroke-linejoin="round"/>
<circle cx="299.7" cy="395.6" r="2.3" fill="#5B9BD5"/>
<circle cx="366.9" cy="413.2" r="2.3" fill="#5B9BD5"/>
<circle cx="434.1" cy="428.2" r="2.3" fill="#5B9BD5"/>
<circle cx="501.3" cy="429.1" r="2.3" fill="#5B9BD5"/>
<polyline points="232.5,373.0 299.7,377.3 366.9,379.5 434.1,379.5 501.3,383.9" fill="none" stroke="#FFC000" stroke-width="1.75" stroke-linejoin="round"/>
<circle cx="299.7" cy="377.3" r="2.3" fill="#FFC000"/>
<circle cx="366.9" cy="379.5" r="2.3" fill="#FFC000"/>
<circle cx="434.1" cy="379.5" r="2.3" fill="#FFC000"/>
<circle cx="501.3" cy="383.9" r="2.3" fill="#FFC000"/>
<polyline points="232.5,373.0 299.7,384.5 366.9,359.3 434.1,381.7 501.3,389.5" fill="none" stroke="#70AD47" stroke-width="1.75" stroke-linejoin="round"/>
<circle cx="299.7" cy="384.5" r="2.3" fill="#70AD47"/>
<circle cx="366.9" cy="359.3" r="2.3" fill="#70AD47"/>
<circle cx="434.1" cy="381.7" r="2.3" fill="#70AD47"/>
<circle cx="501.3" cy="389.5" r="2.3" fill="#70AD47"/>
<polyline points="232.5,373.0 299.7,383.9 366.9,385.0 434.1,386.9 501.3,386.5" fill="none" stroke="#264478" stroke-width="1.75" stroke-linejoin="round"/>
<circle cx="299.7" cy="383.9" r="2.3" fill="#264478"/>
<circle cx="366.9" cy="385.0" r="2.3" fill="#264478"/>
<circle cx="434.1" cy="386.9" r="2.3" fill="#264478"/>
<circle cx="501.3" cy="386.5" r="2.3" fill="#264478"/>
<polyline points="232.5,373.0 299.7,377.3 366.9,379.5 434.1,377.3 501.3,375.2" fill="none" stroke="#9E480E" stroke-width="1.75" stroke-linejoin="round"/>
<circle cx="299.7" cy="377.3" r="2.3" fill="#9E480E"/>
<circle cx="366.9" cy="379.5" r="2.3" fill="#9E480E"/>
<circle cx="434.1" cy="377.3" r="2.3" fill="#9E480E"/>
<circle cx="501.3" cy="375.2" r="2.3" fill="#9E480E"/>
<polyline points="232.5,373.0 299.7,379.5 366.9,385.0 434.1,379.5 501.3,369.5" fill="none" stroke="#636363" stroke-width="1.75" stroke-linejoin="round"/>
<circle cx="299.7" cy="379.5" r="2.3" fill="#636363"/>
<circle cx="366.9" cy="385.0" r="2.3" fill="#636363"/>
<circle cx="434.1" cy="379.5" r="2.3" fill="#636363"/>
<circle cx="501.3" cy="369.5" r="2.3" fill="#636363"/>
<polyline points="232.5,373.0 299.7,376.3 366.9,377.3 434.1,379.5 501.3,381.7" fill="none" stroke="#BF9000" stroke-width="1.75" stroke-linejoin="round"/>
<circle cx="299.7" cy="376.3" r="2.3" fill="#BF9000"/>
<circle cx="366.9" cy="377.3" r="2.3" fill="#BF9000"/>
<circle cx="434.1" cy="379.5" r="2.3" fill="#BF9000"/>
<circle cx="501.3" cy="381.7" r="2.3" fill="#BF9000"/>
<polyline points="232.5,373.0 299.7,374.7 366.9,374.7 434.1,373.2 501.3,377.8" fill="none" stroke="#FF0000" stroke-width="1.75" stroke-linejoin="round"/>
<circle cx="299.7" cy="374.7" r="2.3" fill="#FF0000"/>
<circle cx="366.9" cy="374.7" r="2.3" fill="#FF0000"/>
<circle cx="434.1" cy="373.2" r="2.3" fill="#FF0000"/>
<circle cx="501.3" cy="377.8" r="2.3" fill="#FF0000"/>
<polyline points="232.5,373.0 299.7,378.6 366.9,379.5 434.1,379.5 501.3,388.9" fill="none" stroke="#43682B" stroke-width="1.75" stroke-linejoin="round"/>
<circle cx="232.5" cy="373.0" r="2.3" fill="#43682B"/>
<circle cx="299.7" cy="378.6" r="2.3" fill="#43682B"/>
<circle cx="366.9" cy="379.5" r="2.3" fill="#43682B"/>
<circle cx="434.1" cy="379.5" r="2.3" fill="#43682B"/>
<circle cx="501.3" cy="388.9" r="2.3" fill="#43682B"/>
</svg></body></html>
